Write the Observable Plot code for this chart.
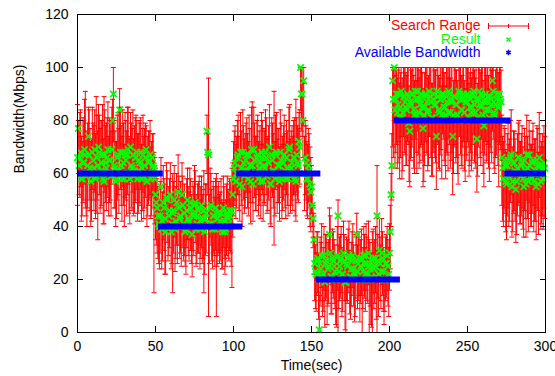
<!DOCTYPE html>
<html>
<head>
<meta charset="utf-8">
<script src="https://cdn.jsdelivr.net/npm/d3@7"></script>
<script src="https://cdn.jsdelivr.net/npm/@observablehq/plot@0.6"></script>
<style>
  html, body { margin: 0; padding: 0; background: white; }
  #chart { width: 555px; height: 376px; overflow: hidden; }
</style>
</head>
<body>
<div id="chart"></div>
<script>
// ---- Data ----
const xTicks = [0, 50, 100, 150, 200, 250, 300];
const yTicks = [0, 20, 40, 60, 80, 100, 120];

// Run A: samples at t = 0, 1, 2 ... 299 s
const result = [
  66,63,68,58,64,67,60,74,62,59, 65,69,59,63,68,61,67,57,64,66, 60,65,69,90,62,58,67,84,63,68, 58,65,67,60,70,62,59,66,68,61, 64,58,67,63,69,60,65,58,66,62,
  52,47,41,44,39,49,43,51,40,46, 38,45,50,42,40,47,44,52,41,38, 46,43,49,40,45,48,39,44,47,42, 40,46,43,76,67,47,41,44,39,45, 43,40,45,38,42,39,44,41,44,46,
  58,64,60,67,56,62,68,59,65,61, 67,57,63,69,60,66,58,64,68,57, 62,66,60,70,56,65,61,67,59,63, 68,58,64,61,66,58,70,62,60,66, 57,64,72,100,90,95,66,58,63,56,
  55,43,26,22,28,1,24,21,29,26, 20,25,30,21,27,23,20,44,25,28, 22,27,19,25,29,21,27,24,22,37, 26,20,28,23,26,29,22,25,20,27, 24,28,44,22,26,30,23,20,26,25, 30,52,
  95,100,88,83,90,85,81,89,87,84, 89,76,86,90,82,88,91,83,88,85, 82,90,87,84,89,81,88,86,74,89, 83,88,90,85,82,87,91,83,88,82, 89,86,80,90,84,88,83,87,90,81, 88,85,91,83,73,88,86,90,82,87, 84,89,81,88,95,83,86,90,85,88,
  66,58,63,56,65,60,67,57,64,54, 62,66,59,64,55,61,67,57,63,58, 65,60,55,63,66,57,62,64
];
const rangeLow = [
  48,52,55,44,50,47,40,58,46,42, 50,53,45,35,52,47,55,41,49,51, 44,50,56,72,47,43,52,66,48,55, 40,50,52,45,57,46,44,49,54,45, 48,42,53,47,55,44,50,43,51,15,
  35,30,26,30,24,35,22,38,27,32, 24,15,36,28,26,33,30,38,27,25, 32,29,35,26,31,37,25,30,33,28, 26,15,29,60,6,36,27,30,25,6, 29,26,31,24,28,25,32,27,30,17,
  44,50,47,52,42,48,55,45,51,47, 53,41,49,56,46,52,44,50,54,42, 48,52,46,57,40,51,33,54,45,49, 55,43,50,47,52,44,58,48,46,52, 42,50,55,84,74,78,52,44,49,40,
  45,32,12,8,15,0,10,6,16,12, 3,11,18,7,13,9,2,0,12,15, 8,12,0,11,17,5,14,10,6,20, 12,4,14,9,13,16,11,0,3,0, 9,15,0,6,12,18,8,8,13,10, 16,40,
  70,80,68,62,72,66,58,74,67,63, 71,55,66,73,60,68,76,62,70,65, 57,72,67,63,74,59,68,66,54,71, 61,69,75,65,58,67,73,62,68,60, 71,66,56,74,63,70,61,67,72,59, 68,65,75,62,53,70,66,73,60,67, 64,71,57,68,76,62,66,72,55,69,
  48,40,45,35,47,42,52,38,46,34, 44,49,41,47,36,43,50,38,45,40, 48,42,35,46,51,39,44,47
];
const rangeHigh = [
  86,78,84,72,80,91,75,85,77,73, 79,84,89,76,82,80,86,89,78,81, 74,80,85,100,76,72,83,92,78,84, 71,80,85,74,83,77,73,81,80,75, 79,71,82,77,78,74,76,70,75,68,
  62,58,54,57,50,63,56,64,52,58, 49,60,63,55,51,59,57,64,53,50, 58,55,62,52,57,63,50,56,59,55, 52,61,56,82,96,62,54,57,51,60, 55,52,58,49,55,50,59,53,57,62,
  72,78,74,82,68,76,84,73,79,75, 82,70,87,85,74,80,72,78,83,71, 76,81,74,86,69,79,91,82,73,77, 84,71,78,75,80,72,86,76,74,81, 88,78,83,100,100,100,80,72,77,70,
  63,48,36,30,38,14,34,29,40,37, 27,35,44,31,38,33,28,50,36,40, 31,37,26,35,42,30,38,33,29,45, 36,28,39,32,37,41,31,35,27,38, 34,40,63,30,36,43,32,28,37,35, 41,60,
  100,100,100,96,100,98,93,100,100,97, 100,90,99,100,95,100,100,96,100,98, 92,100,100,97,100,94,100,99,88,100, 96,100,100,98,93,100,100,96,100,95, 100,99,91,100,97,100,95,100,100,94, 100,98,100,96,87,100,99,100,95,100, 97,100,92,100,100,96,99,100,98,100,
  82,72,77,68,79,73,84,70,76,66, 75,80,72,78,67,74,82,69,76,71, 79,73,66,77,83,70,75,78
];

// Run B: samples at t = 0.5, 1.5 ... 299.5 s
const resultB = [
  77,66,58,64,69,59,63,67,57,68, 62,58,66,70,60,64,58,67,62,69, 65,59,80,63,57,66,61,68,58,64, 67,60,69,58,63,67,61,66,58,65, 68,62,59,66,57,64,67,60,63,58,
  49,44,40,55,42,47,38,50,44,52, 41,46,39,49,53,43,40,48,45,39, 50,42,47,37,44,49,41,46,39,48, 43,38,45,68,41,48,39,44,47,40, 45,42,39,47,38,45,43,46,40,52,
  62,57,66,60,68,55,64,61,67,58, 63,69,56,65,60,67,62,57,66,63, 68,59,64,56,67,61,58,68,63,57, 65,60,67,58,62,69,59,64,66,58, 67,63,70,90,80,60,64,58,61,53,
  48,35,23,27,20,26,29,22,19,27, 24,37,21,28,25,20,29,23,27,22, 30,19,26,28,21,24,29,21,27,23, 28,25,20,29,22,26,30,24,21,28, 25,21,27,31,23,28,20,26,29,22, 38,63,
  88,84,90,86,81,91,83,89,85,90, 79,87,90,84,91,82,88,86,90,77, 85,89,83,91,87,81,90,86,91,84, 88,82,90,85,89,83,90,87,74,89, 86,82,91,88,84,90,80,87,89,85, 83,90,86,88,81,91,85,89,78,90, 87,84,89,86,91,82,88,85,90,87,
  62,65,57,63,59,66,55,64,61,57, 66,60,63,58,65,56,62,67,59,64, 57,61,65,56,63,60,58,62
];
const rangeLowB = [
  60,51,42,49,56,44,47,50,40,54, 46,43,50,57,45,48,41,53,46,55, 49,44,64,47,40,50,45,54,42,48, 51,44,56,41,47,53,45,50,42,49, 54,46,43,51,40,48,52,44,47,41,
  33,28,24,40,27,31,22,34,29,38, 26,30,23,33,40,28,25,32,29,22, 35,27,31,21,29,34,26,30,24,32, 28,22,30,52,26,33,24,29,31,25, 30,27,24,32,22,29,28,31,25,36,
  48,43,52,46,55,40,50,47,53,44, 49,57,42,51,46,54,48,43,52,49, 56,45,50,41,53,47,44,55,49,42, 51,46,54,43,48,57,45,50,52,44, 53,49,56,76,66,46,50,43,47,38,
  40,22,9,14,5,12,17,8,2,13, 10,22,7,15,11,3,16,9,13,6, 18,1,12,15,7,10,17,4,13,9, 14,11,0,16,8,12,18,10,2,15, 11,5,13,19,9,14,3,12,16,6, 24,50,
  66,62,71,64,58,74,61,68,63,72, 57,65,70,62,73,60,67,64,71,55, 63,68,61,74,66,59,70,64,72,62, 67,58,73,63,68,61,71,65,52,70, 64,60,74,67,62,72,57,65,70,63, 61,71,64,67,59,73,63,68,55,72, 65,62,70,64,73,60,67,63,71,65,
  42,47,38,44,40,49,36,45,42,37, 48,41,44,39,46,36,43,49,40,45, 38,42,47,37,44,41,39,43
];
const rangeHighB = [
  80,83,74,81,88,76,79,84,72,85, 78,75,82,86,77,80,73,84,79,87, 81,76,88,80,72,82,77,85,74,79, 83,76,85,73,79,84,78,82,75,80, 81,77,74,79,70,76,80,72,75,66,
  60,55,50,66,53,58,48,61,55,64, 52,57,49,60,67,54,51,59,56,50, 62,53,58,47,55,61,52,57,50,59, 54,48,56,75,52,60,49,55,58,51, 57,53,50,59,48,56,54,58,51,64,
  76,71,80,74,83,68,78,75,81,72, 77,85,70,79,74,82,76,71,80,77, 84,73,78,69,81,75,72,83,77,70, 79,74,82,71,76,85,73,78,80,72, 81,77,84,100,94,74,78,71,75,66,
  60,45,33,38,30,36,41,32,28,37, 34,47,31,39,35,29,40,33,37,32, 42,28,36,39,31,34,41,30,37,33, 38,35,29,40,32,36,42,34,30,39, 35,31,37,43,33,38,30,36,40,32, 48,75,
  100,97,100,99,94,100,96,100,98,100, 93,100,100,97,100,95,100,99,100,91, 98,100,96,100,100,94,100,99,100,97, 100,93,100,98,100,96,100,100,88,100, 99,95,100,100,97,100,92,100,100,98, 96,100,99,100,94,100,98,100,90,100, 100,97,100,99,100,95,100,98,100,99,
  74,78,69,75,71,80,66,76,73,68, 79,72,75,70,77,67,74,80,71,76, 69,73,78,68,75,72,70,74
];

// Available bandwidth segments
const availStart = [0, 52, 102, 153, 203, 274];
const availEnd   = [55, 106, 156, 207, 278, 300];
const availValue = [60, 40, 60, 20, 80, 60];

// ---- Tables built from the arrays ----
const samples = [
  ...result.map((r, i) => ({t: i, r, lo: rangeLow[i], hi: rangeHigh[i]})),
  ...resultB.map((r, i) => ({t: i + 0.5, r, lo: rangeLowB[i], hi: rangeHighB[i]}))
];
const avail = availValue.map((v, i) => ({x1: availStart[i], x2: availEnd[i], y: v}));

const RED = "#ff0000", GREEN = "#00ff00", BLUE = "#0000ff";
const FONT = "'Liberation Sans', Arial, Helvetica, sans-serif";

const capSymbol = {
  draw(ctx, size) { const w = Math.sqrt(size / Math.PI); ctx.moveTo(-w, 0); ctx.lineTo(w, 0); }
};
const legendBarSymbol = {
  draw(ctx, size) {
    const w = 20, c = 3;
    ctx.moveTo(-w, 0); ctx.lineTo(w, 0);
    ctx.moveTo(-w, -c); ctx.lineTo(-w, c);
    ctx.moveTo(w, -c); ctx.lineTo(w, c);
    ctx.moveTo(0, -2); ctx.lineTo(0, 2);
  }
};

const chart = Plot.plot({
  width: 555,
  height: 376,
  marginLeft: 77,
  marginRight: 10,
  marginTop: 14,
  marginBottom: 44,
  style: {fontSize: "14px", fontFamily: FONT, background: "white", color: "black", overflow: "hidden"},
  x: {domain: [0, 300]},
  y: {domain: [0, 120]},
  marks: [
    // search range error bars
    Plot.ruleX(samples, {x: "t", y1: "lo", y2: "hi", stroke: RED, strokeWidth: 1}),
    Plot.dot(samples, {x: "t", y: "lo", symbol: capSymbol, r: 2.5, stroke: RED, strokeWidth: 1}),
    Plot.dot(samples, {x: "t", y: "hi", symbol: capSymbol, r: 2.5, stroke: RED, strokeWidth: 1}),
    // results
    Plot.dot(samples, {x: "t", y: "r", symbol: "times", r: 3, stroke: GREEN, strokeWidth: 1.8}),
    // available bandwidth
    Plot.ruleY(avail, {x1: "x1", x2: "x2", y: "y", stroke: BLUE, strokeWidth: 6}),
    // axes (inward ticks, mirrored)
    Plot.axisX({ticks: xTicks, tickSize: -6, label: null}),
    Plot.axisX({ticks: xTicks, anchor: "top", tickSize: -6, tickFormat: () => "", label: null}),
    Plot.axisY({ticks: yTicks, tickSize: -6, label: null}),
    Plot.axisY({ticks: yTicks, anchor: "right", tickSize: -6, tickFormat: () => "", label: null}),
    Plot.frame({stroke: "black", strokeWidth: 1}),
    // axis titles
    Plot.text(["Time(sec)"], {frameAnchor: "bottom", dy: 33, lineAnchor: "middle", fill: "black"}),
    Plot.text(["Bandwidth(Mbps)"], {frameAnchor: "left", dx: -58, rotate: -90, lineAnchor: "middle", fill: "black"}),
    // legend
    Plot.text(["Search Range"], {frameAnchor: "top-right", dx: -65, dy: 11.5, lineAnchor: "middle", textAnchor: "end", fill: RED}),
    Plot.text(["Result"], {frameAnchor: "top-right", dx: -65, dy: 25, lineAnchor: "middle", textAnchor: "end", fill: GREEN}),
    Plot.text(["Available Bandwidth"], {frameAnchor: "top-right", dx: -65, dy: 38, lineAnchor: "middle", textAnchor: "end", fill: BLUE}),
    Plot.dot([0], {frameAnchor: "top-right", dx: -37, dy: 11.5, symbol: legendBarSymbol, r: 3, stroke: RED, strokeWidth: 1}),
    Plot.dot([0], {frameAnchor: "top-right", dx: -37, dy: 25, symbol: "times", r: 2, stroke: GREEN, strokeWidth: 1.3}),
    Plot.dot([0], {frameAnchor: "top-right", dx: -37, dy: 38, symbol: "asterisk", r: 2.5, stroke: BLUE, strokeWidth: 1.5})
  ]
});
document.getElementById("chart").appendChild(chart);
</script>
</body>
</html>
